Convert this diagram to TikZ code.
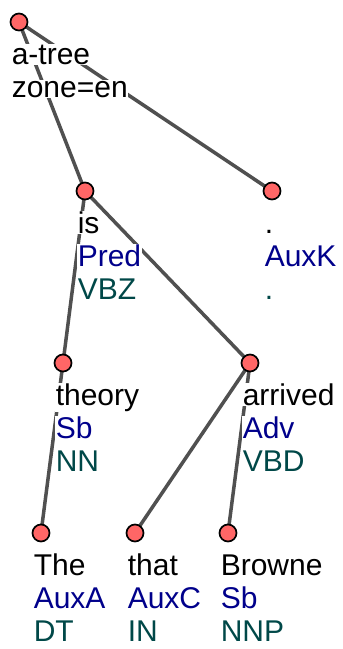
\documentclass[tikz,border=0pt]{standalone}
\usepackage{fontspec}
\setmainfont{Liberation Sans}
\definecolor{nodered}{RGB}{255,102,102}
\definecolor{edgegray}{RGB}{80,80,80}
\definecolor{afunblue}{RGB}{0,0,139}
\definecolor{tagteal}{RGB}{0,72,72}
\begin{document}
\begin{tikzpicture}[x=1pt,y=-1pt,
   dotnode/.style={circle,draw=black,line width=1.7pt,fill=nodered,
      minimum size=17pt,inner sep=0pt},
   edge/.style={line width=3.5pt,draw=edgegray},
   txt/.style={anchor=base west,inner sep=0.6pt,fill=white,
      font=\fontsize{30}{36}\selectfont},
   word/.style={txt,text=black},
   afun/.style={txt,text=afunblue},
   tag/.style={txt,text=tagteal}
]
   \useasboundingbox (0,0) rectangle (343,649);

   \coordinate (root) at (19,22);
   \coordinate (is) at (85,191);
   \coordinate (period) at (272,191);
   \coordinate (theory) at (63,363);
   \coordinate (arrived) at (250,363);
   \coordinate (the) at (41,533);
   \coordinate (that) at (135,533);
   \coordinate (browne) at (228,533);

   \foreach \a/\b in {root/is,root/period,is/theory,is/arrived,
      theory/the,arrived/that,arrived/browne}
      \draw[edge] (\a) -- (\b);

   \foreach \n in {root,is,period,theory,arrived,the,that,browne}
      \node[dotnode] (\n-c) at (\n) {};

   % root labels
   \node[word] (root-w) at ([shift={(-8,42)}]root) {a-tree};
   \node[word] (root-a) at ([shift={(-8,75)}]root) {zone=en};

   \foreach \n/\w/\a/\t in {is/is/Pred/VBZ,period/./AuxK/.,
      theory/theory/Sb/NN,arrived/arrived/Adv/VBD,
      the/The/AuxA/DT,that/that/AuxC/IN,browne/Browne/Sb/NNP} {
      \node[word] (\n-w) at ([shift={(-8,42)}]\n) {\w};
      \node[afun] (\n-a) at ([shift={(-8,75)}]\n) {\a};
      \node[tag] (\n-t) at ([shift={(-8,108)}]\n) {\t};
   }
\end{tikzpicture}
\end{document}
